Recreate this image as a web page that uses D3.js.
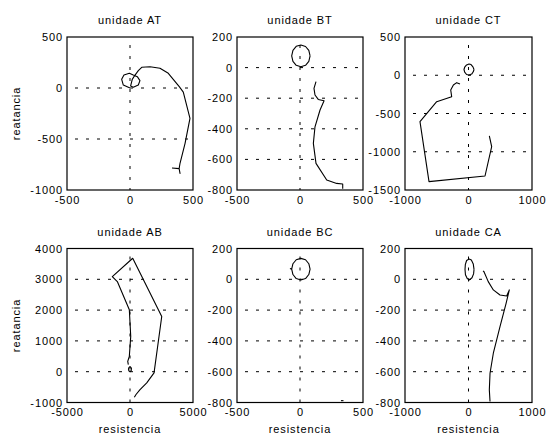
<!DOCTYPE html>
<html>
<head>
<meta charset="utf-8">
<script src="https://cdn.jsdelivr.net/npm/d3@7"></script>
<style>
body{margin:0;background:#fff}
text{font-family:"Liberation Sans",Arial,sans-serif;font-size:11px;letter-spacing:0.9px;fill:#000}
</style>
</head>
<body>
<svg id="svg" width="547" height="438"></svg>
<script>
// ---- data ----
var titles = ["unidade AT","unidade BT","unidade CT","unidade AB","unidade BC","unidade CA"];
var xDomains = [[-500,500],[-500,500],[-1000,1000],[-5000,5000],[-500,500],[-1000,1000]];
var yDomains = [[-1000,500],[-800,200],[-1500,500],[-1000,4000],[-800,200],[-800,200]];
var xTicks = [[-500,0,500],[-500,0,500],[-1000,0,1000],[-5000,0,5000],[-500,0,500],[-1000,0,1000]];
var yTicks = [[-1000,-500,0,500],[-800,-600,-400,-200,0,200],[-1500,-1000,-500,0,500],
              [-1000,0,1000,2000,3000,4000],[-800,-600,-400,-200,0,200],[-800,-600,-400,-200,0,200]];

// unidade AT
var traceAT = [[0,0],[-53,29],[-66,85],[-48,127],[-5,144],[26,127],[58,111],[79,72],[66,29],[26,7],
  [5,20],[18,85],[40,127],[66,170],[93,203],[159,209],[238,193],[304,144],[391,13],[423,-40],
  [476,-297],[437,-542],[397,-738],[390,-790],[397,-837],[390,-790],[333,-785]];
// unidade BT
var loopBT = [[80,77],[70,113],[44,138],[7,148],[-30,139],[-56,113],[-66,77],[-56,41],[-30,15],[7,6],[44,15],[70,41],[80,77]];
var traceBT = [[127,-92],[111,-136],[119,-179],[145,-208],[191,-217],[159,-277],[119,-387],[106,-495],
  [127,-626],[212,-735],[291,-757],[339,-761],[339,-792]];
// unidade CT
var loopCT = [[87,75],[70,110],[40,140],[8,147],[-30,135],[-60,105],[-71,75],[-60,40],[-30,10],[8,3],[50,15],[75,45],[87,75]];
var traceCT = [[-134,-114],[-186,-97],[-238,-127],[-280,-193],[-265,-280],[-501,-346],[-764,-607],
  [-622,-1391],[260,-1317],[365,-934],[328,-794]];
// unidade AB
var loopAB = [[120,80],[90,130],[0,160],[-90,130],[-120,80],[-90,30],[0,0],[90,30],[120,80]];
var traceAB = [[-133,230],[-180,337],[-53,499],[58,1146],[-53,2010],[-1006,2926],[-1403,3087],[216,3683],
  [2519,1793],[1908,-38],[1328,-362],[796,-579],[478,-741],[344,-828]];
// unidade BC
var loopBC = [[-80,70],[-66,66],[-56,31],[-30,5],[7,-4],[44,5],[70,31],[80,66],[70,101],[44,127],[7,136],[-30,127],[-56,101],[-66,66]];
var traceBC = [[325,-788],[345,-788]];
// unidade CA
var loopCA = [[87,64],[75,100],[45,125],[10,132],[-30,122],[-50,95],[-55,64],[-48,30],[-20,5],[16,-4],[55,10],[80,35],[87,64]];
var traceCA = [[230,55],[244,49],[311,-15],[391,-69],[496,-102],[601,-108],[643,-69],[592,-156],
  [496,-308],[391,-480],[339,-610],[328,-718],[339,-794]];

var series = [[traceAT],[loopBT,traceBT],[loopCT,traceCT],[loopAB,traceAB],[loopBC,traceBC],[loopCA,traceCA]];

// ---- layout ----
var colX = [[67,193],[237,363],[405,532]];
var rowY = [[37,190],[248.5,402.5]];

var svg = d3.select("#svg");
var fmt = function(d){ return String(d); };

titles.forEach(function(t,i){
 var c = i%3, r = Math.floor(i/3);
 var x = d3.scaleLinear().domain(xDomains[i]).range(colX[c]);
 var y = d3.scaleLinear().domain(yDomains[i]).range([rowY[r][1],rowY[r][0]]);
 var g = svg.append("g");

 // grid
 g.selectAll(".gx").data(xTicks[i].slice(1,-1)).enter().append("line")
  .attr("x1",function(d){return x(d)}).attr("x2",function(d){return x(d)})
  .attr("y1",rowY[r][0]).attr("y2",rowY[r][1])
  .style("stroke","#000").style("stroke-width",1).style("stroke-dasharray","3,8").style("stroke-dashoffset",3);
 g.selectAll(".gy").data(yTicks[i].slice(1,-1)).enter().append("line")
  .attr("y1",function(d){return y(d)}).attr("y2",function(d){return y(d)})
  .attr("x1",colX[c][0]).attr("x2",colX[c][1])
  .style("stroke","#000").style("stroke-width",1).style("stroke-dasharray","3,8").style("stroke-dashoffset",3);

 // curves
 var line = d3.line().x(function(d){return x(d[0])}).y(function(d){return y(d[1])});
 series[i].forEach(function(s){
  g.append("path").attr("d",line(s))
   .style("fill","none").style("stroke","#000").style("stroke-width",1.1).style("stroke-linejoin","round");
 });

 // box
 g.append("rect").attr("x",colX[c][0]).attr("y",rowY[r][0])
  .attr("width",colX[c][1]-colX[c][0]).attr("height",rowY[r][1]-rowY[r][0])
  .style("fill","none").style("stroke","#000").style("stroke-width",1.2);

 // axes
 var ax = g.append("g").attr("transform","translate(0,"+rowY[r][1]+")")
  .call(d3.axisBottom(x).tickValues(xTicks[i]).tickFormat(fmt).tickSize(0).tickPadding(6));
 var ay = g.append("g").attr("transform","translate("+colX[c][0]+",0)")
  .call(d3.axisLeft(y).tickValues(yTicks[i]).tickFormat(fmt).tickSize(0).tickPadding(4));
 [ax,ay].forEach(function(a){
  a.select(".domain").remove();
  a.attr("font-family",null).attr("font-size",null);
  a.selectAll("text").style("fill","#000");
 });

 // title
 g.append("text").attr("x",(colX[c][0]+colX[c][1])/2).attr("y",rowY[r][0]-13)
  .attr("text-anchor","middle").text(t);

 if(c==0){
  g.append("text").attr("transform","translate(20,"+((rowY[r][0]+rowY[r][1])/2)+") rotate(-90)")
   .attr("text-anchor","middle").text("reatancia");
 }
 if(r==1){
  g.append("text").attr("x",(colX[c][0]+colX[c][1])/2).attr("y",433)
   .attr("text-anchor","middle").text("resistencia");
 }
});
</script>
</body>
</html>
